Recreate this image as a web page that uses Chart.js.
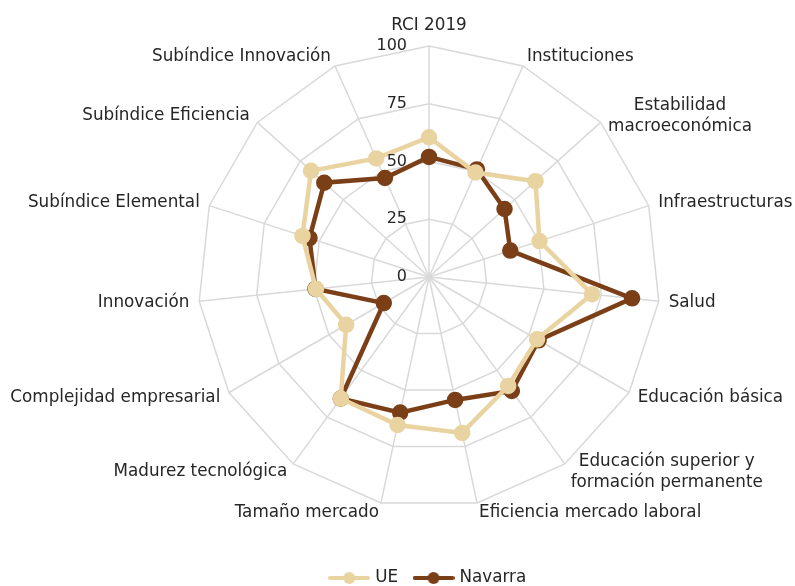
<!DOCTYPE html>
<html>
<head>
<meta charset="utf-8">
<script src="https://cdn.jsdelivr.net/npm/chart.js@4/dist/chart.umd.min.js"></script>
<style>
  html, body { margin: 0; padding: 0; background: #fff; overflow: hidden; }
  #wrap { width: 795px; height: 586px; }
</style>
</head>
<body>
<div id="wrap"><canvas id="radarChart" width="795" height="586"></canvas></div>
<script>
// Categories (axes of the radar)
const categories = [
    'RCI 2019',
    'Instituciones',
    ['Estabilidad', 'macroeconómica'],
    'Infraestructuras',
    'Salud',
    'Educación básica',
    ['Educación superior y', 'formación permanente'],
    'Eficiencia mercado laboral',
    'Tamaño mercado',
    'Madurez tecnológica',
    'Complejidad empresarial',
    'Innovación',
    'Subíndice Elemental',
    'Subíndice Eficiencia',
    'Subíndice Innovación'
];

// Series values
const ueValues = [60.5, 49.5, 62, 50.3, 71, 54, 58.3, 69, 65.5, 65, 41.4, 49.2, 57.6, 68.7, 56.2];
const navarraValues = [52, 51, 44, 37, 88.4, 54.8, 61, 54.4, 60, 65, 22.6, 49.4, 54.4, 61, 46.9];

// Radial tick labels
const tickValues = [0, 25, 50, 75, 100];

const ueColor = '#E9D3A0';
const navarraColor = '#7B3F17';
const textColor = '#262626';
const fontFamily = 'Verdana, "DejaVu Sans", sans-serif';

// Legend marker: short line with a dot in the middle
function makeMarker(color) {
    const c = document.createElement('canvas');
    c.width = 42;
    c.height = 14;
    const g = c.getContext('2d');
    g.strokeStyle = color;
    g.lineWidth = 4;
    g.lineCap = 'round';
    g.beginPath();
    g.moveTo(2, 7);
    g.lineTo(40, 7);
    g.stroke();
    g.fillStyle = color;
    g.beginPath();
    g.arc(21, 7, 6, 0, Math.PI * 2);
    g.fill();
    return c;
}

// Tick numbers to the left of the vertical axis
const tickLabelPlugin = {
    id: 'tickLabels',
    afterDatasetsDraw(chart) {
        const scale = chart.scales.r;
        const ctx = chart.ctx;
        ctx.save();
        ctx.font = '16px ' + fontFamily;
        ctx.fillStyle = textColor;
        ctx.textAlign = 'right';
        ctx.textBaseline = 'middle';
        tickValues.forEach(v => {
            const d = scale.getDistanceFromCenterForValue(v);
            ctx.fillText(String(v), scale.xCenter - 22, scale.yCenter - d);
        });
        ctx.restore();
    }
};

// Category labels, vertically centred on their spoke (Excel style)
const categoryLabelPlugin = {
    id: 'categoryLabels',
    afterDraw(chart) {
        const scale = chart.scales.r;
        const ctx = chart.ctx;
        const lineHeight = 21;
        ctx.save();
        ctx.font = '16.8px ' + fontFamily;
        ctx.fillStyle = textColor;
        ctx.textAlign = 'center';
        ctx.textBaseline = 'middle';
        categories.forEach((label, i) => {
            const lines = Array.isArray(label) ? label : [label];
            const pos = scale.getPointPosition(i, scale.drawingArea + 10);
            const deg = Math.round(scale.getIndexAngle(i) * 180 / Math.PI) % 360;
            const w = Math.max(...lines.map(l => ctx.measureText(l).width));
            const h = lines.length * lineHeight;
            let cx = pos.x;
            if (deg > 0 && deg < 180) cx = pos.x + w / 2;
            else if (deg > 180) cx = pos.x - w / 2;
            let top = pos.y - h / 2;
            if (deg === 0) top = pos.y - h;
            else if (deg === 180) top = pos.y;
            lines.forEach((line, k) => ctx.fillText(line, cx, top + lineHeight * (k + 0.5)));
        });
        ctx.restore();
    }
};

new Chart(document.getElementById('radarChart'), {
    type: 'radar',
    data: {
        labels: categories,
        datasets: [
            {
                label: 'UE',
                data: ueValues,
                borderColor: ueColor,
                backgroundColor: ueColor,
                borderWidth: 4.5,
                pointRadius: 6,
                pointBackgroundColor: ueColor,
                pointBorderColor: ueColor,
                fill: false
            },
            {
                label: 'Navarra',
                data: navarraValues,
                borderColor: navarraColor,
                backgroundColor: navarraColor,
                borderWidth: 4.5,
                pointRadius: 6,
                pointBackgroundColor: navarraColor,
                pointBorderColor: navarraColor,
                fill: false
            }
        ]
    },
    options: {
        responsive: false,
        animation: false,
        layout: { padding: { top: 46, bottom: -10.4, left: 63, right: 0 } },
        scales: {
            r: {
                min: 0,
                max: 100,
                ticks: { stepSize: 25, display: false },
                grid: { color: '#d9d9d9', lineWidth: 1.5 },
                angleLines: { color: '#d9d9d9', lineWidth: 1.5 },
                pointLabels: { display: false }
            }
        },
        plugins: {
            legend: {
                position: 'bottom',
                title: { display: true, text: '', font: { size: 13 }, padding: { top: 28, bottom: 0 } },
                labels: {
                    usePointStyle: true,
                    pointStyleWidth: 35,
                    color: textColor,
                    font: { family: fontFamily, size: 16.8 },
                    padding: 18,
                    generateLabels(chart) {
                        return chart.data.datasets.map((ds, i) => ({
                            text: ds.label,
                            pointStyle: makeMarker(ds.borderColor),
                            fillStyle: ds.borderColor,
                            strokeStyle: ds.borderColor,
                            fontColor: textColor,
                            lineWidth: 0,
                            hidden: false,
                            datasetIndex: i
                        }));
                    }
                }
            },
            tooltip: { enabled: false }
        }
    },
    plugins: [tickLabelPlugin, categoryLabelPlugin]
});
</script>
</body>
</html>
